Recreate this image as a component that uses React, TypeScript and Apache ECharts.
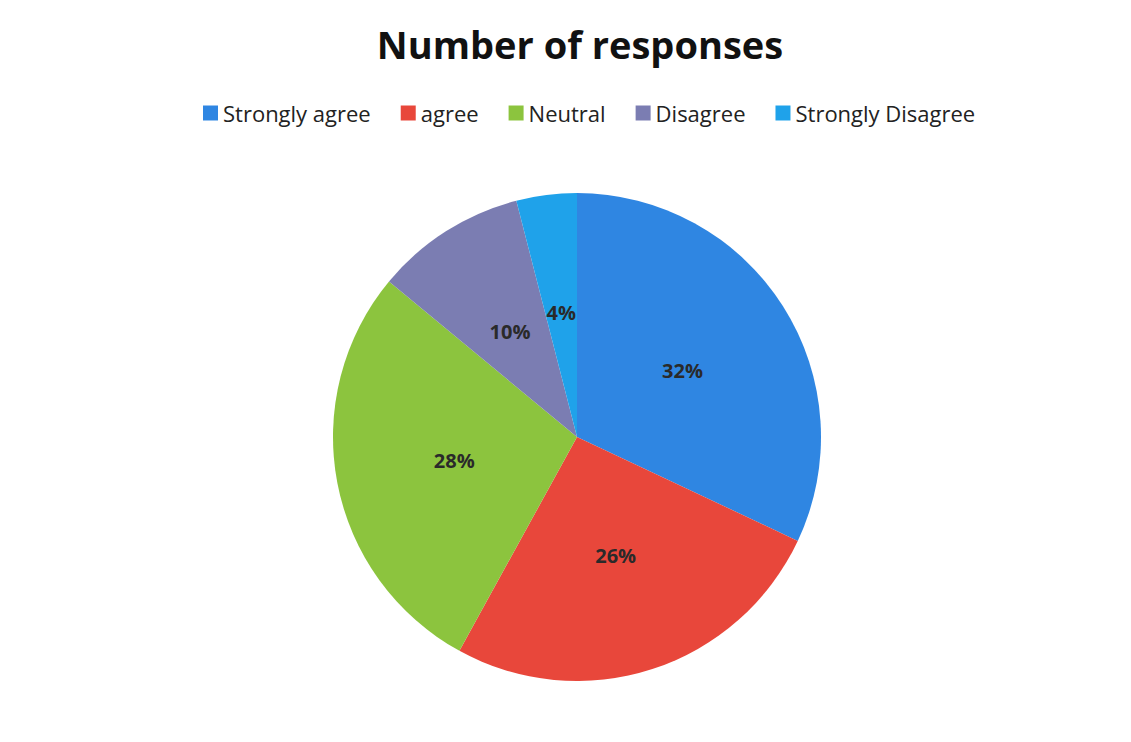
import React, { useEffect, useRef } from "react";
import * as echarts from "echarts";

const categories = ["Strongly agree", "agree", "Neutral", "Disagree", "Strongly Disagree"];
const values = [32, 26, 28, 10, 4];
const colors = ["#2f86e2", "#e8473b", "#8cc43e", "#7b7db2", "#1fa2ea"];

export default function App() {
  const ref = useRef<HTMLDivElement>(null);
  useEffect(() => {
    document.body.style.margin = "0";
    const chart = echarts.init(ref.current!, null, { renderer: "svg" });
    chart.setOption({
      animation: false,
      backgroundColor: "#ffffff",
      title: {
        text: "Number of responses",
        left: 575,
        textAlign: "center",
        top: 20,
        textStyle: { fontFamily: "Open Sans", fontWeight: "bold", fontSize: 38, color: "#111" },
      },
      legend: {
        top: 97,
        left: 198,
        itemWidth: 15,
        itemHeight: 15,
        itemGap: 30,
        icon: "rect",
        textStyle: { fontFamily: "Open Sans", fontSize: 22, color: "#222" },
        data: categories,
      },
      series: [
        {
          type: "pie",
          center: [577, 437],
          radius: 244,
          startAngle: 90,
          clockwise: true,
          label: {
            show: true,
            position: "inside",
            formatter: "{d}%",
            fontFamily: "Open Sans",
            fontWeight: "bold",
            fontSize: 20,
            color: "#2a2a2a",
          },
          labelLine: { show: false },
          itemStyle: { borderWidth: 0 },
          data: categories.map((c, i) => ({ name: c, value: values[i], itemStyle: { color: colors[i] } })),
        },
      ],
    });
    return () => chart.dispose();
  }, []);
  return <div ref={ref} style={{ width: 1131, height: 742 }} />;
}
